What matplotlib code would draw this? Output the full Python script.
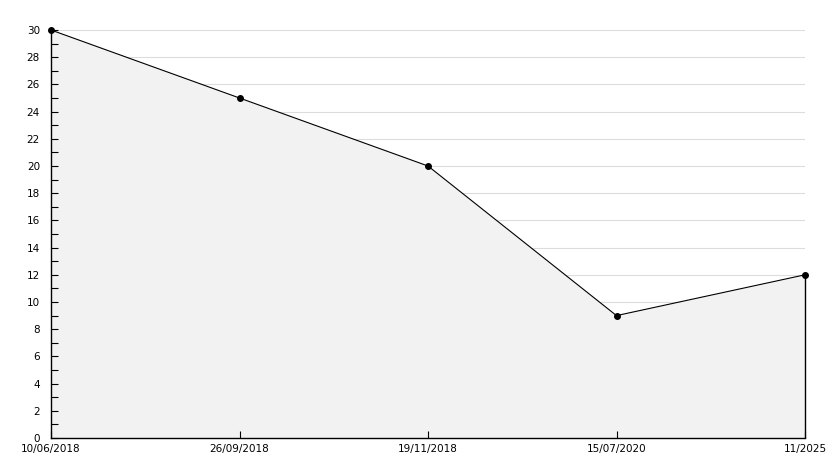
import matplotlib
matplotlib.use("Agg")
import matplotlib.pyplot as plt
from matplotlib.ticker import MultipleLocator

categories = ["10/06/2018", "26/09/2018", "19/11/2018", "15/07/2020", "11/2025"]
values = [30, 25, 20, 9, 12]

fig = plt.figure(figsize=(8.34, 4.68), dpi=100)
ax = fig.add_axes([51/834, 30/468, (805-51)/834, (438-30)/468])

x = list(range(len(categories)))
ax.set_xlim(x[0], x[-1])
ax.set_ylim(0, 30)

ax.yaxis.set_major_locator(MultipleLocator(2))
ax.yaxis.set_minor_locator(MultipleLocator(1))
for yv in ax.get_yticks():
    if 0 < yv <= 30:
        ax.axhline(yv, color="#dcdcdc", linewidth=0.8, zorder=0)

ax.fill_between(x, values, 0, color="#f2f2f2", zorder=1, linewidth=0)
ax.plot(x, values, color="black", linewidth=0.8, marker="o", markersize=4,
        zorder=3, clip_on=False)
ax.vlines(x[-1], 0, values[-1], color="black", linewidth=1, zorder=3, clip_on=False)

ax.set_xticks(x)
ax.set_xticklabels(categories)

for s in ["top", "right"]:
    ax.spines[s].set_visible(False)
for s in ["left", "bottom"]:
    ax.spines[s].set_linewidth(1)
    ax.spines[s].set_zorder(4)

ax.tick_params(axis="y", which="both", direction="in", length=5, width=0.8, labelsize=7.5, pad=8)
ax.tick_params(axis="x", direction="in", length=5, width=0.8, labelsize=7.5, pad=4)

fig.savefig("out.png", dpi=100)
